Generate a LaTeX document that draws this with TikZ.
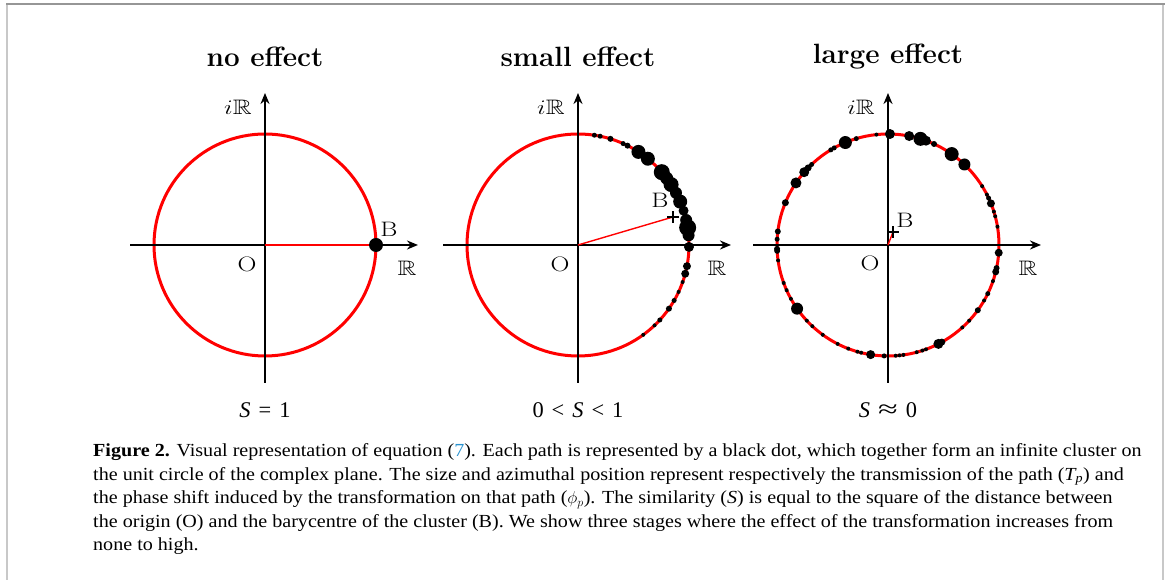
\documentclass[tikz,border=0pt]{standalone}
\usepackage{amssymb}
\usepackage{graphicx}
\usepackage{fontspec}
\newfontfamily\capfont{Liberation Serif}[FakeStretch=1.09]
\newfontfamily\labfont{Liberation Serif}
\usetikzlibrary{arrows.meta}
\definecolor{capblue}{RGB}{41,146,207}
\definecolor{framegray}{RGB}{200,200,200}
\definecolor{topgray}{RGB}{150,150,150}
\newcommand{\relgap}{\hspace{8bp}}
\tikzset{
  axis/.style={line width=2.6bp,-{Stealth[length=11bp,width=9bp]}},
  ucircle/.style={red,line width=3bp},
  radius line/.style={red,line width=1.4bp},
  lbl/.style={inner sep=0pt,xscale=1.25,transform shape,font=\fontsize{21}{21}\selectfont},
  bottomlbl/.style={inner sep=0pt,font=\labfont\fontsize{22.5}{22.5}\selectfont},
  titlelbl/.style={inner sep=0pt,font=\fontsize{28}{28}\selectfont\bfseries},
  capline/.style={inner sep=0pt,anchor=base west,font=\capfont\fontsize{18.5}{23}\selectfont},
  crossmark/.style={line width=1.8bp}
}
\begin{document}
\begin{tikzpicture}[x=1bp,y=1bp]
\useasboundingbox (0,0) rectangle (1168,580);
% frame
\draw[framegray,line width=2bp] (7,0) -- (7,576);
\draw[framegray,line width=2.5bp] (1163,0) -- (1163,576);
\draw[topgray,line width=1.2bp] (6,576) -- (1164.5,576);

% ---------- panel 1 ----------
\begin{scope}[shift={(265,335)}]
  \coordinate (O1) at (0,0);
  \draw[ucircle] (O1) circle (111);
  \draw[axis] (-135,0) coordinate (xl1) -- (153,0) coordinate (xr1);
  \draw[axis] (0,-138) coordinate (yb1) -- (0,152) coordinate (yt1);
  \coordinate (B1) at (111,0);
  \draw[radius line] (O1) -- (B1);
  \fill (B1) circle (7);
  \node[titlelbl] (t1) at (0,188) {no effect};
  \node[lbl] (iR1) at (-27,138) {$i\mathbb{R}$};
  \node[lbl] (o1) at (-18,-19) {O};
  \node[lbl] (R1) at (142,-23) {$\mathbb{R}$};
  \node[lbl] (b1) at (124,16) {B};
  \node[bottomlbl] (s1) at (0,-165) {{\itshape S}\relgap=\relgap1};
\end{scope}

% ---------- panel 2 ----------
\begin{scope}[shift={(578,335)}]
  \coordinate (O2) at (0,0);
  \draw[ucircle] (O2) circle (111);
  \draw[axis] (-135,0) coordinate (xl2) -- (153,0) coordinate (xr2);
  \draw[axis] (0,-138) coordinate (yb2) -- (0,152) coordinate (yt2);
  \coordinate (B2) at (95,28);
  \draw[radius line] (O2) -- (B2);
  \foreach \a/\r in {81.5/2.5,78.5/2.5,73/3,66/2.5,63.5/3,57/7,51/7,41/8,37/6.5,33/7.5,28/6,23/7,18/5,13/6,9/8.5,5/6,-1/5,-11/4,-15/4,-19.5/2,-25/2,-30/2.5,-35/3,-42.5/2.5,-46.4/2,-54/2}
    \fill (\a:111) circle (\r);
  \draw[crossmark] ([xshift=-6bp]B2) -- ([xshift=6bp]B2) ([yshift=-6bp]B2) -- ([yshift=6bp]B2);
  \node[titlelbl] (t2) at (0,188) {small effect};
  \node[lbl] (iR2) at (-27,138) {$i\mathbb{R}$};
  \node[lbl] (o2) at (-18,-19) {O};
  \node[lbl] (R2) at (139,-23) {$\mathbb{R}$};
  \node[lbl] (b2) at (82,45) {B};
  \node[bottomlbl] (s2) at (0,-165) {0\relgap<\relgap{\itshape S}\relgap<\relgap1};
\end{scope}

% ---------- panel 3 ----------
\begin{scope}[shift={(888,335)}]
  \coordinate (O3) at (0,0);
  \draw[ucircle] (O3) circle (111);
  \draw[axis] (-135,0) coordinate (xl3) -- (153,0) coordinate (xr3);
  \draw[axis] (0,-138) coordinate (yb3) -- (0,152) coordinate (yt3);
  \coordinate (B3) at (5,13);
  \draw[radius line] (O3) -- (B3);
  \foreach \a/\r in {89/5,96/2,106.6/2.5,112.6/6.5,119/2.5,121/2.5,133.5/2.5,136/3.5,139/5,146/5.5,157.6/3.5,173/3,177/2.5,182/3,183/3,188/2,200/2,204/2,209/2,215/6,223/2,227/2,234/2,243/2,249/2,254/2,256/2,261/4.5,268/2.5,274/2,276/2,278/2,285/2,288/2,290/2,297/5,299/3.5,312/2,317/2,324/3,330/2,334/2.5,341/2,346/3.5,348/3,356/4,79/5,73/7,70/5,65.5/3,55/7,46.5/6,32/2,27/2,25/2.5,22/4,17.5/2,15/2,9.5/2}
    \fill (\a:111) circle (\r);
  \draw[crossmark] ([xshift=-6bp]B3) -- ([xshift=6bp]B3) ([yshift=-6bp]B3) -- ([yshift=6bp]B3);
  \node[titlelbl] (t3) at (0,188) {large effect};
  \node[lbl] (iR3) at (-27,138) {$i\mathbb{R}$};
  \node[lbl] (o3) at (-18,-18) {O};
  \node[lbl] (R3) at (140,-23) {$\mathbb{R}$};
  \node[lbl] (b3) at (17,25) {B};
  \node[bottomlbl] (s3) at (0,-165) {{\itshape S}\relgap\scalebox{1.6}[1.1]{≈}\relgap0};
\end{scope}

% ---------- caption ----------
\node[capline] (cap1) at (93,123) {\textbf{Figure 2.} Visual representation of equation (\textcolor{capblue}{7}). Each path is represented by a black dot, which together form an infinite cluster on};
\node[capline] (cap2) at (93,99.6) {the unit circle of the complex plane. The size and azimuthal position represent respectively the transmission of the path ({\itshape T}\textsubscript{\itshape p}) and};
\node[capline] (cap3) at (93,76.2) {the phase shift induced by the transformation on that path ($\phi_p$). The similarity ({\itshape S}) is equal to the square of the distance between};
\node[capline] (cap4) at (93,52.8) {the origin (O) and the barycentre of the cluster (B). We show three stages where the effect of the transformation increases from};
\node[capline] (cap5) at (93,29.4) {none to high.};
\end{tikzpicture}
\end{document}
